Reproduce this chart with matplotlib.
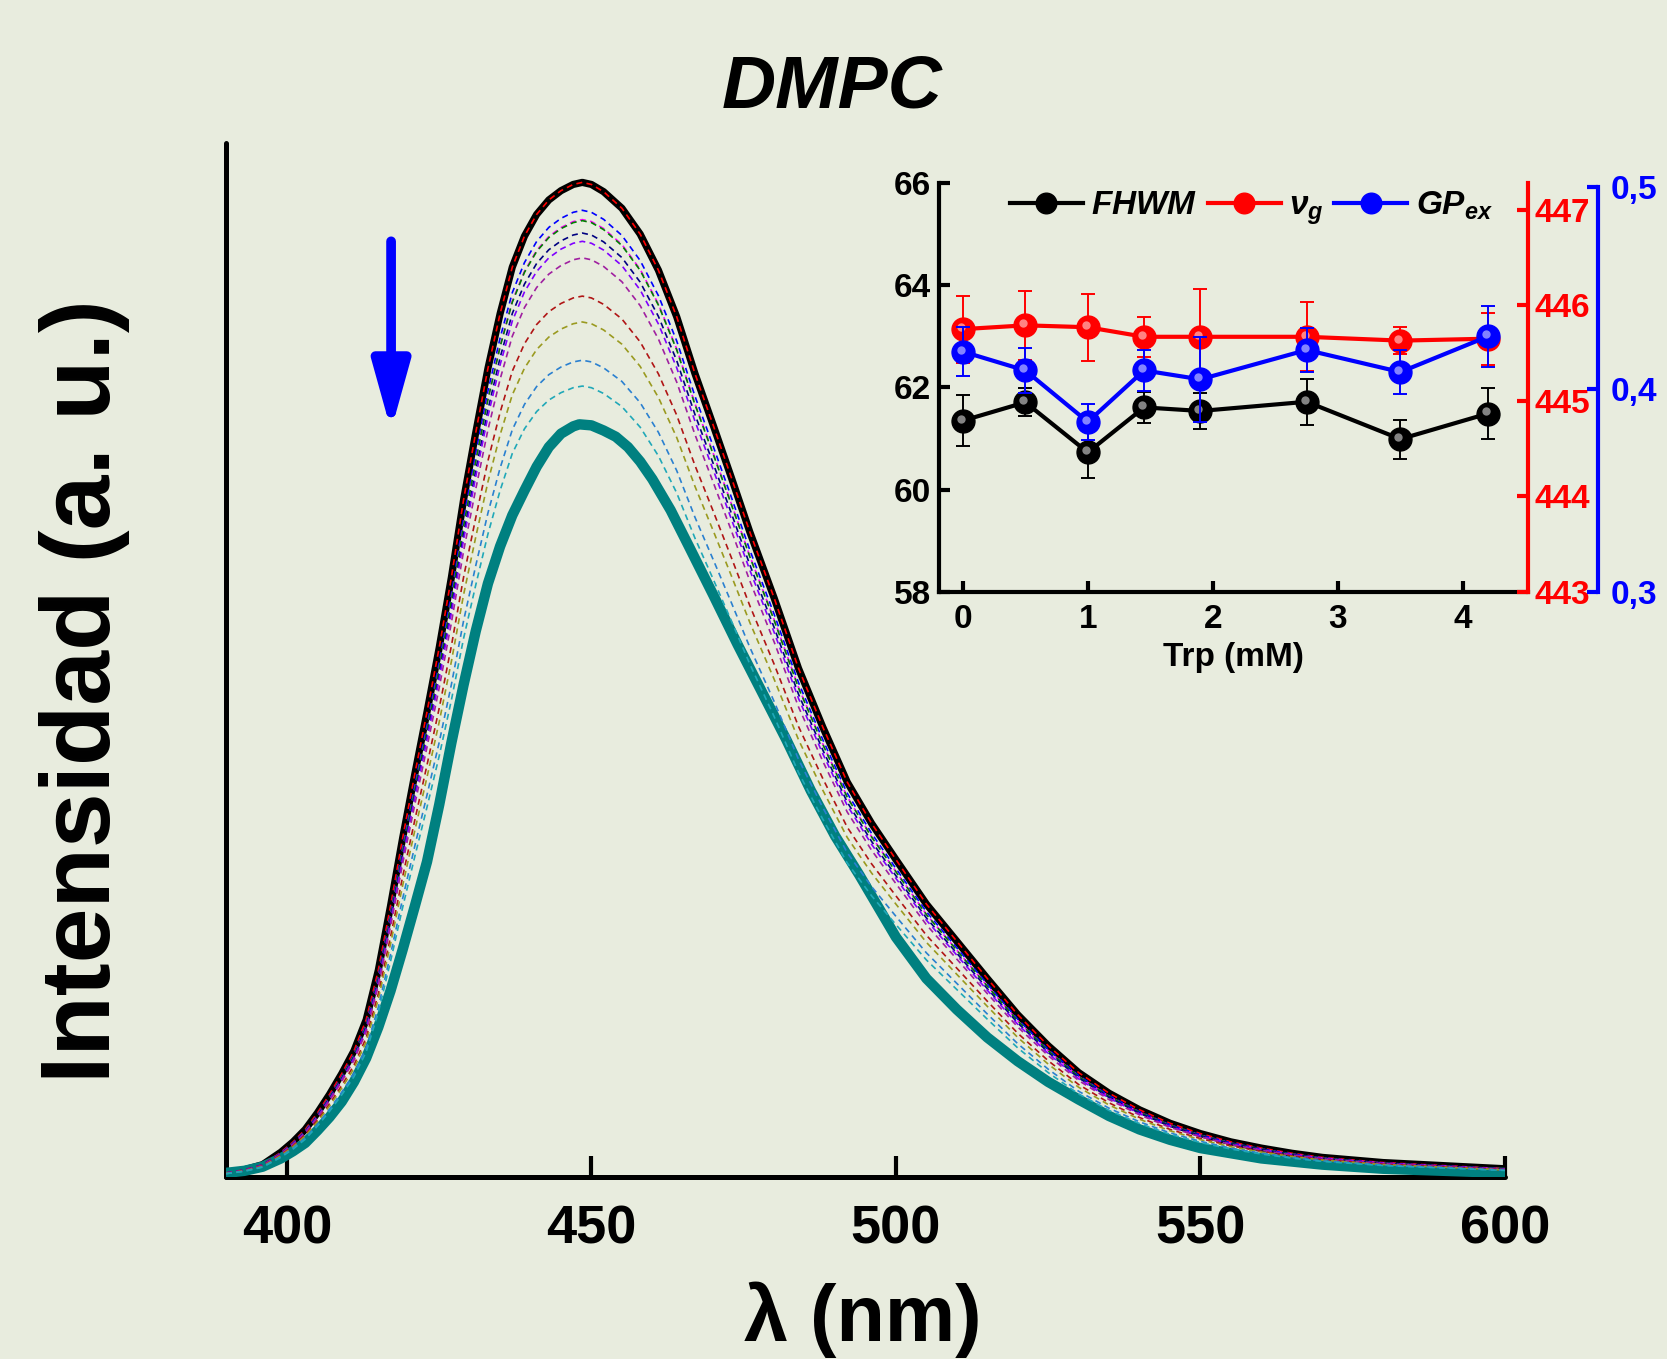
import numpy as np
import matplotlib
matplotlib.use("Agg")
import matplotlib.pyplot as plt
import matplotlib.transforms as mtransforms

plt.rcParams['font.family'] = ['Liberation Sans', 'DejaVu Sans']
plt.rcParams['font.weight'] = 'bold'
plt.rcParams['mathtext.fontset'] = 'custom'
plt.rcParams['mathtext.it'] = 'Liberation Sans:bold:italic'
plt.rcParams['mathtext.rm'] = 'Liberation Sans:bold'
plt.rcParams['mathtext.bf'] = 'Liberation Sans:bold'

# emission spectra (normalised), lipid alone and at highest Trp
wl_0 = [390, 393, 396, 399, 401, 403, 405, 407, 409, 411, 413, 415, 417, 419, 421,
        423, 425, 427, 429, 431, 433, 435, 437, 439, 441, 443, 445, 447, 448.5, 450,
        452, 455, 458, 461, 464, 467, 470, 473, 476, 480, 484, 488, 492, 496, 500,
        505, 510, 515, 520, 525, 530, 535, 540, 545, 550, 555, 560, 565, 570, 580,
        590, 600]
int_0 = [0.004, 0.007, 0.012, 0.024, 0.034, 0.046, 0.062, 0.080, 0.100, 0.122,
         0.152, 0.200, 0.262, 0.328, 0.390, 0.450, 0.512, 0.580, 0.655, 0.720,
         0.782, 0.835, 0.880, 0.910, 0.931, 0.945, 0.954, 0.960, 0.962, 0.960,
         0.953, 0.937, 0.912, 0.877, 0.832, 0.777, 0.727, 0.676, 0.624, 0.560,
         0.492, 0.435, 0.382, 0.342, 0.307, 0.264, 0.228, 0.192, 0.157, 0.127,
         0.101, 0.081, 0.065, 0.052, 0.042, 0.034, 0.028, 0.023, 0.019, 0.014,
         0.011, 0.008]

wl_trp = [390, 393, 396, 399, 401, 403, 405, 407, 409, 411, 413, 415, 417, 419,
          421, 423, 425, 427, 429, 431, 433, 435, 437, 439, 441, 443, 445, 447,
          448, 450, 452, 454, 456, 458, 460, 463, 466, 470, 474, 478, 482, 486,
          490, 494, 497, 500, 505, 510, 515, 520, 525, 530, 535, 540, 545, 550,
          555, 560, 565, 570, 580, 590, 600]
int_trp = [0.004, 0.006, 0.010, 0.018, 0.025, 0.033, 0.045, 0.058, 0.073, 0.092,
           0.115, 0.145, 0.180, 0.220, 0.262, 0.305, 0.360, 0.420, 0.476, 0.528,
           0.574, 0.610, 0.640, 0.664, 0.687, 0.706, 0.719, 0.726, 0.728, 0.727,
           0.722, 0.716, 0.706, 0.692, 0.675, 0.645, 0.610, 0.563, 0.515, 0.469,
           0.423, 0.374, 0.330, 0.292, 0.262, 0.232, 0.192, 0.162, 0.135, 0.112,
           0.092, 0.075, 0.059, 0.046, 0.036, 0.028, 0.023, 0.018, 0.015, 0.012,
           0.008, 0.006, 0.004]

# intermediate additions: peak heights and colours
dash_peaks = [0.962, 0.935, 0.926, 0.925, 0.913, 0.905, 0.889, 0.852, 0.827, 0.790, 0.765]
dash_colors = ['#ff0000', '#0000ff', '#ff00ff', '#008000', '#000080', '#8000ff',
               '#a020a0', '#b01515', '#9a9a20', '#2a80d0', '#20a8b8']

# inset data
trp = [0, 0.5, 1.0, 1.45, 1.9, 2.75, 3.5, 4.2]
fhwm = [61.35, 61.71, 60.73, 61.61, 61.54, 61.72, 60.99, 61.49]
fhwm_err = [0.50, 0.27, 0.50, 0.30, 0.36, 0.45, 0.38, 0.50]
nu_g = [445.75, 445.79, 445.77, 445.67, 445.67, 445.67, 445.63, 445.65]
nu_g_err = [0.35, 0.36, 0.35, 0.21, 0.50, 0.36, 0.14, 0.27]
gp_ex = [0.4187, 0.4094, 0.3840, 0.4094, 0.4050, 0.4195, 0.4086, 0.4262]
gp_ex_err = [0.012, 0.011, 0.009, 0.010, 0.021, 0.011, 0.011, 0.015]

bg = '#e8ecde'
fig = plt.figure(figsize=(16.67, 13.59), dpi=100, facecolor=bg)

# ---- main spectra ----
ax = fig.add_axes([0.1356, 0.1339, 0.7672, 0.7608])
ax.set_facecolor('none')
ax.plot(wl_0, int_0, color='black', lw=5.2, solid_capstyle='round', zorder=3)
ax.plot(wl_trp, int_trp, color='#008080', lw=7.5, solid_capstyle='round', zorder=4)
i0 = np.array(int_0)
for pk, c in zip(dash_peaks, dash_colors):
    ax.plot(wl_0, i0 * pk / i0.max(), color=c, lw=1.2, ls=(0, (3.6, 2.6)), zorder=5)

ax.set_xlim(390, 600)
ax.set_ylim(0, 1)
ax.set_yticks([])
ax.set_xticks([400, 450, 500, 550, 600])
ax.tick_params(axis='x', direction='in', length=15, width=3, pad=20, labelsize=39)
for s in ['top', 'right']:
    ax.spines[s].set_visible(False)
for s in ['left', 'bottom']:
    ax.spines[s].set_linewidth(3.6)
    ax.spines[s].set_capstyle('round')

ax.annotate('', xy=(417.1, 0.722), xytext=(417.1, 0.905),
            arrowprops=dict(arrowstyle='-|>,head_length=2.7,head_width=0.75',
                            color='blue', lw=7, mutation_scale=15,
                            shrinkA=0, shrinkB=0, joinstyle='round', capstyle='round'))

fig.text(832 / 1667, 1 - 88 / 1359, 'DMPC', fontsize=54, fontstyle='italic',
         fontweight='bold', ha='center', va='center')
fig.text(85 / 1667, 1 - 691 / 1359, 'Intensidad (a. u.)', fontsize=71,
         fontweight='bold', rotation=90, ha='center', va='center')
fig.text(863 / 1667, 1 - 1320 / 1359, 'λ (nm)', fontsize=57,
         fontweight='bold', ha='center', va='center')

# ---- inset: FHWM, nu_g and GP_ex vs Trp ----
axi = fig.add_axes([0.5633, 0.5644, 0.3533, 0.301])
axi.set_facecolor('none')
axr = axi.twinx()
axb = axi.twinx()
axb.spines['right'].set_position(('axes', 1.119))


def shaded(a, x, y, err, face, light):
    a.errorbar(x, y, yerr=err, fmt='none', ecolor=face, elinewidth=1.4,
               capsize=5, capthick=1.4, zorder=2)
    h, = a.plot(x, y, '-o', color=face, lw=3.0, ms=16.5, mfc=face, mec=face, zorder=3)
    off = mtransforms.offset_copy(a.transData, fig=fig, x=-1.5, y=1.5, units='points')
    a.plot(x, y, 'o', ms=6, color=light, alpha=0.75, mec='none', transform=off, zorder=4)
    return h


h1 = shaded(axi, trp, fhwm, fhwm_err, 'black', '#b0b0b0')
h2 = shaded(axr, trp, nu_g, nu_g_err, '#ff0000', '#ffb0b0')
h3 = shaded(axb, trp, gp_ex, gp_ex_err, '#0000ff', '#b0b0ff')

axi.set_xlim(-0.19, 4.52)
axi.set_ylim(58, 66)
axi.set_yticks([58, 60, 62, 64, 66])
axi.set_xticks([0, 1, 2, 3, 4])
axi.set_xlabel('Trp (mM)', fontsize=24, fontweight='bold', labelpad=5)
axi.tick_params(axis='x', direction='in', length=8, width=3, pad=9, labelsize=24)
axi.tick_params(axis='y', direction='in', length=8, width=3, pad=6, labelsize=24)
axi.spines['top'].set_visible(False)
axi.spines['right'].set_visible(False)
axi.spines['left'].set_linewidth(3)
axi.spines['bottom'].set_linewidth(3)

axr.set_ylim(443.0, 447.28)
axr.set_yticks([443, 444, 445, 446, 447])
axr.tick_params(axis='y', direction='in', length=8, width=3, pad=5, labelsize=24,
                colors='#ff0000')
for s in ['top', 'left', 'bottom']:
    axr.spines[s].set_visible(False)
axr.spines['right'].set_color('#ff0000')
axr.spines['right'].set_linewidth(3)

axb.set_ylim(0.3, 0.502)
axb.set_yticks([0.3, 0.4, 0.5])
axb.set_yticklabels(['0,3', '0,4', '0,5'])
axb.tick_params(axis='y', direction='in', length=8, width=3, pad=9, labelsize=24,
                colors='#0000ff')
for s in ['top', 'left', 'bottom']:
    axb.spines[s].set_visible(False)
axb.spines['right'].set_color('#0000ff')
axb.spines['right'].set_linewidth(3)
axb.spines['right'].set_bounds(0.3, 0.5)

leg = axb.legend([h1, h2, h3], ['$FHWM$', r'$\nu_g$', '$GP_{ex}$'],
                 loc='center', bbox_to_anchor=(0.53, 0.939), ncol=3,
                 frameon=False, fontsize=24, handlelength=2.2,
                 handletextpad=0.25, columnspacing=0.3, markerscale=0.9)

fig.savefig('out.png', dpi=100, facecolor=bg)
